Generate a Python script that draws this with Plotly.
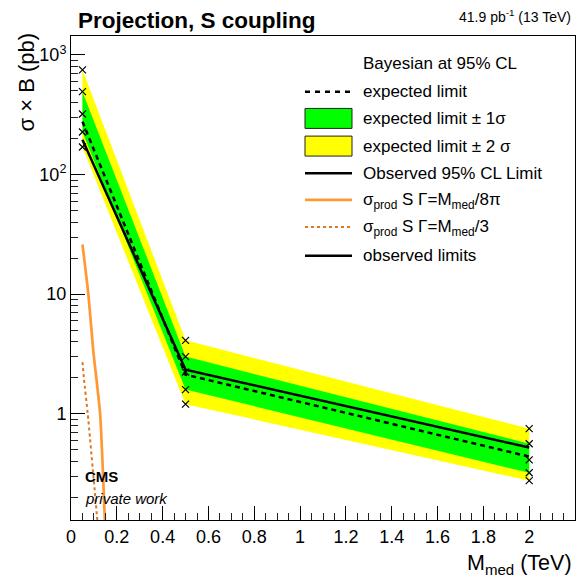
import plotly.graph_objects as go

# ---------------- data ----------------
mass = [0.05, 0.5, 2.0]                     # M_med (TeV)
expected = [277, 2.12, 0.437]               # pb
observed = [195, 2.33, 0.52]
plus1 = [493, 3.0, 0.56]
minus1 = [227, 1.59, 0.32]
plus2 = [750, 4.1, 0.75]
minus2 = [170, 1.2, 0.275]
median_pts = [321, 2.23, 0.41]

theory_8pi_x = [0.05, 0.0757, 0.097, 0.127, 0.15]
theory_8pi_y = [26, 10, 3.4, 1.0, 0.1]
theory_3_x = [0.05, 0.057, 0.073, 0.12]
theory_3_y = [2.7, 1.92, 1.0, 0.1]

y_label_alias = {"100": "10<sup>2</sup>", "1000": "10<sup>3</sup>"}
y_minor_ticks = [k * 10 ** d for d in range(-1, 4) for k in range(2, 10)]

# ---------------- geometry ----------------
W, H = 581, 579
L, R, T, B = 71, 6, 36, 58.5
PW, PH = W - L - R, H - T - B
DEC = 119.7
yrange = [0 - (H - B - 414) / DEC, 3 + (55 - T) / DEC]
xrange = [0, 2.1999]

def px(x):
    return (x - L) / PW

def py(y):
    return (H - B - y) / PH

FONT = "Liberation Sans, Arial, Helvetica, sans-serif"
GREEN = "#00ff00"
YELLOW = "#ffff00"
ORANGE = "#ff9933"
ORANGE_D = "#dd7722"
TICKC = "#222222"

fig = go.Figure()

# bands
fig.add_trace(go.Scatter(x=mass + mass[::-1], y=plus2 + minus2[::-1], fill="toself",
                         fillcolor=YELLOW, line=dict(width=0), mode="lines",
                         showlegend=False, hoverinfo="skip"))
fig.add_trace(go.Scatter(x=mass + mass[::-1], y=plus1 + minus1[::-1], fill="toself",
                         fillcolor=GREEN, line=dict(width=0), mode="lines",
                         showlegend=False, hoverinfo="skip"))
# expected
fig.add_trace(go.Scatter(x=mass, y=expected, mode="lines",
                         line=dict(color="black", width=2.5, dash="5px,4px"),
                         showlegend=False))
# observed
fig.add_trace(go.Scatter(x=mass, y=observed, mode="lines",
                         line=dict(color="black", width=2.5), showlegend=False))
# crosses
for arr in (plus2, plus1, median_pts, minus1, minus2):
    fig.add_trace(go.Scatter(x=mass, y=arr, mode="markers",
                             marker=dict(symbol="x-thin", size=7,
                                         line=dict(color="black", width=1.2)),
                             showlegend=False))
# theory curves
fig.add_trace(go.Scatter(x=theory_8pi_x, y=theory_8pi_y, mode="lines",
                         line=dict(color=ORANGE, width=2.7, shape="spline", smoothing=0.5),
                         showlegend=False))
fig.add_trace(go.Scatter(x=theory_3_x, y=theory_3_y, mode="lines",
                         line=dict(color=ORANGE_D, width=2, dash="dot", shape="spline",
                                   smoothing=0.5),
                         showlegend=False))
# invisible carrier for the minor-tick y axis
fig.add_trace(go.Scatter(x=[1.0], y=[1.0], xaxis="x", yaxis="y2", mode="markers",
                         marker=dict(size=1, opacity=0), showlegend=False, hoverinfo="skip"))

# ---------------- legend (drawn manually) ----------------
sym_x0, sym_x1, text_x = 305, 352, 360.5
rows = [64, 91.7, 119, 146.5, 173.5, 201, 228.3, 256]
labels = [
    "Bayesian at 95% CL",
    "expected limit",
    "expected limit \u00b1 1\u03c3",
    "expected limit \u00b1 2 \u03c3",
    "Observed 95% CL Limit",
    "\u03c3<sub>prod</sub> S \u0393=M<sub>med</sub>/8\u03c0",
    "\u03c3<sub>prod</sub> S \u0393=M<sub>med</sub>/3",
    "observed limits",
]
shapes = []
annotations = []
for r, lab in zip(rows, labels):
    annotations.append(dict(x=px(text_x), y=py(r), xref="paper", yref="paper",
                            text=lab, showarrow=False, xanchor="left", yanchor="middle",
                            font=dict(family=FONT, size=17, color="black")))

def hline(y, color, width, dash="solid"):
    shapes.append(dict(type="line", xref="paper", yref="paper",
                       x0=px(sym_x0), x1=px(sym_x1), y0=py(y), y1=py(y),
                       line=dict(color=color, width=width, dash=dash)))

def box(y, color):
    shapes.append(dict(type="rect", xref="paper", yref="paper",
                       x0=px(sym_x0), x1=px(sym_x1), y0=py(y - 10), y1=py(y + 10),
                       fillcolor=color, line=dict(color="#222222", width=1)))

hline(rows[1], "black", 2.5, "5px,5px")
box(rows[2] - 0.5, GREEN)
box(rows[3] - 0.3, YELLOW)
hline(rows[4], "black", 2.5)
hline(rows[5] - 1, ORANGE, 2.7)
hline(rows[6] - 1, ORANGE_D, 2, "dot")
hline(rows[7], "black", 2.5)

# ---------------- texts ----------------
annotations += [
    dict(x=px(76), y=py(20), xref="paper", yref="paper", text="<b>Projection, S coupling</b>",
         showarrow=False, xanchor="left", yanchor="middle",
         font=dict(family=FONT, size=22.5, color="black")),
    dict(x=px(573), y=py(16), xref="paper", yref="paper", text="41.9 pb<sup>-1</sup> (13 TeV)",
         showarrow=False, xanchor="right", yanchor="middle",
         font=dict(family=FONT, size=14, color="black")),
    dict(x=px(83), y=py(477), xref="paper", yref="paper", text="<b>CMS</b>",
         showarrow=False, xanchor="left", yanchor="middle",
         font=dict(family=FONT, size=15, color="black")),
    dict(x=px(83), y=py(499), xref="paper", yref="paper", text="<i>private work</i>",
         showarrow=False, xanchor="left", yanchor="middle",
         font=dict(family=FONT, size=15, color="black")),
    dict(x=px(574), y=py(565), xref="paper", yref="paper", text="M<sub>med</sub> (TeV)",
         showarrow=False, xanchor="right", yanchor="middle",
         font=dict(family=FONT, size=21.5, color="black")),
    dict(x=px(27), y=py(31), xref="paper", yref="paper", text="\u03c3 \u00d7 B (pb)",
         showarrow=False, xanchor="center", yanchor="top", textangle=-90,
         font=dict(family=FONT, size=22, color="black")),
]

fig.update_layout(
    width=W, height=H,
    margin=dict(l=L, r=R, t=T, b=B, pad=0),
    paper_bgcolor="white", plot_bgcolor="white",
    showlegend=False,
    shapes=shapes, annotations=annotations,
    font=dict(family=FONT, color="black"),
    xaxis=dict(range=xrange, tickmode="linear", tick0=0, dtick=0.2,
               ticks="inside", ticklen=14, tickwidth=1, tickcolor="black",
               minor=dict(ticks="inside", dtick=0.05, ticklen=7, tickwidth=1.3,
                          tickcolor=TICKC),
               showline=True, linecolor="black", linewidth=1, mirror=True,
               showgrid=False, zeroline=False,
               tickfont=dict(family=FONT, size=18, color="black")),
    yaxis=dict(type="log", range=yrange, tickmode="linear", tick0=0, dtick=1,
               exponentformat="none", labelalias=y_label_alias,
               ticks="inside", ticklen=14, tickwidth=1, tickcolor="black",
               showline=True, linecolor="black", linewidth=1, mirror=True,
               showgrid=False, zeroline=False,
               tickfont=dict(family=FONT, size=18, color="black")),
    yaxis2=dict(overlaying="y", anchor="x", side="left", type="log", range=yrange,
                tickmode="array", tickvals=y_minor_ticks, ticks="inside", ticklen=7,
                tickwidth=1.3, tickcolor=TICKC, showticklabels=False,
                showgrid=False, zeroline=False, showline=False),
)

fig.write_html("out.html")
